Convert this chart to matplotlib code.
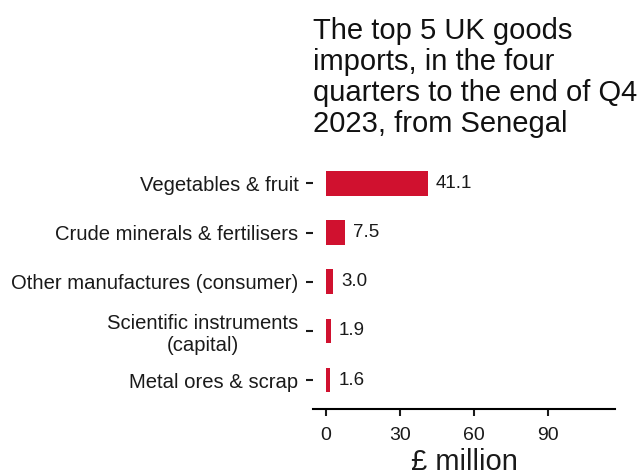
import matplotlib
matplotlib.use("Agg")
import matplotlib.pyplot as plt

plt.rcParams['font.family'] = ['Liberation Sans', 'DejaVu Sans']

categories = ["Vegetables & fruit", "Crude minerals & fertilisers",
              "Other manufactures (consumer)", "Scientific instruments\n(capital)",
              "Metal ores & scrap"]
values = [41.1, 7.5, 3.0, 1.9, 1.6]
xticks = [0, 30, 60, 90]
title = "The top 5 UK goods\nimports, in the four\nquarters to the end of Q4\n2023, from Senegal"

fig = plt.figure(figsize=(6.41, 4.74), dpi=100)
ax = fig.add_axes([313/641, 1-409/474, (615-313)/641, (409-154)/474])

ypos = list(range(len(categories)))
ax.barh(ypos, values, height=0.5, color='#d0112f')
for y, v in zip(ypos, values):
    ax.annotate(f"{v:.1f}", (v, y), xytext=(6, 0), textcoords='offset points',
                va='center', ha='left', fontsize=13.5, color='#1a1a1a')

ax.set_ylim(len(categories) - 0.41, -0.6)
ax.set_xlim(-5.3, 117)
ax.set_yticks(ypos)
ax.set_yticklabels(categories, fontsize=14.6, color='#1a1a1a')
for lbl in ax.get_yticklabels():
    lbl.set_multialignment('center')
ax.set_xticks(xticks)
ax.set_xticklabels([str(t) for t in xticks], fontsize=14, color='#1a1a1a')
ax.set_xlabel("£ million", fontsize=21, color='#1a1a1a', labelpad=3)

for s in ['top', 'right', 'left']:
    ax.spines[s].set_visible(False)
ax.spines['bottom'].set_linewidth(1.5)
ax.tick_params(axis='y', length=5, width=1.5, pad=5.5, color='#1a1a1a')
ax.tick_params(axis='x', length=5, width=1.5, pad=8, color='#1a1a1a')

fig.text(313/641, 1-17/474, title, ha='left', va='top', fontsize=21,
         linespacing=1.13, color='#111111')

fig.savefig("out.png", dpi=100)
